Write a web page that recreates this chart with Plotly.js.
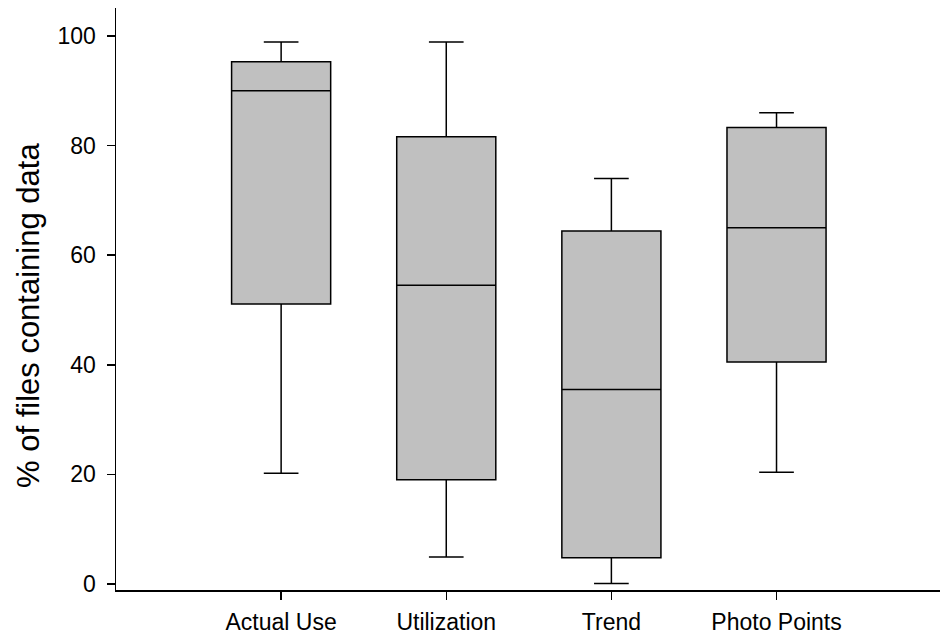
<!DOCTYPE html>
<html>
<head>
<meta charset="utf-8">
<script src="https://cdn.plot.ly/plotly-3.0.1.min.js"></script>
<style>html,body{margin:0;padding:0;background:#fff;}#chart{width:940px;height:640px;}</style>
</head>
<body>
<div id="chart"></div>
<script>
const categories = ["Actual Use", "Utilization", "Trend", "Photo Points"];
const lowerWhisker = [20.2, 4.9, 0.1, 20.4];
const q1Values = [51.1, 19.0, 4.8, 40.5];
const medianValues = [90.0, 54.5, 35.5, 65.0];
const q3Values = [95.3, 81.6, 64.4, 83.3];
const upperWhisker = [98.9, 98.9, 74.0, 86.0];
const yTicks = [0, 20, 40, 60, 80, 100];
const yTitle = "% of files containing data";

const font = "Liberation Sans, Arial, sans-serif";

const trace = {
  type: "box",
  x: categories,
  q1: q1Values,
  median: medianValues,
  q3: q3Values,
  lowerfence: lowerWhisker,
  upperfence: upperWhisker,
  boxpoints: false,
  width: 0.6,
  whiskerwidth: 0.35,
  fillcolor: "#c0c0c0",
  line: {color: "#000", width: 1.5},
  hoverinfo: "skip",
  showlegend: false
};

const layout = {
  width: 940,
  height: 640,
  margin: {l: 116, r: 0, t: 8, b: 50},
  paper_bgcolor: "#fff",
  plot_bgcolor: "#fff",
  font: {family: font, size: 23, color: "#000"},
  xaxis: {
    type: "category",
    range: [-1, 3.99],
    showline: true,
    linecolor: "#000",
    linewidth: 1.5,
    ticks: "outside",
    ticklen: 8,
    tickwidth: 1.5,
    tickcolor: "#000",
    showgrid: false,
    zeroline: false,
    ticklabelstandoff: 3,
    tickfont: {family: font, size: 23, color: "#000"}
  },
  yaxis: {
    range: [-1.1, 105.1],
    tickvals: yTicks,
    ticktext: yTicks.map(String),
    showline: true,
    linecolor: "#000",
    linewidth: 1.5,
    ticks: "outside",
    ticklen: 8,
    tickwidth: 1.5,
    tickcolor: "#000",
    showgrid: false,
    zeroline: false,
    ticklabelstandoff: 6,
    tickfont: {family: font, size: 23, color: "#000"}
  },
  annotations: [{
    text: yTitle,
    xref: "paper", yref: "paper",
    x: 0, y: 0.5,
    xanchor: "center", yanchor: "middle",
    xshift: -88, yshift: -17,
    textangle: -90,
    showarrow: false,
    font: {family: font, size: 31, color: "#000"}
  }]
};

Plotly.newPlot("chart", [trace], layout, {staticPlot: true, displayModeBar: false});
</script>
</body>
</html>
